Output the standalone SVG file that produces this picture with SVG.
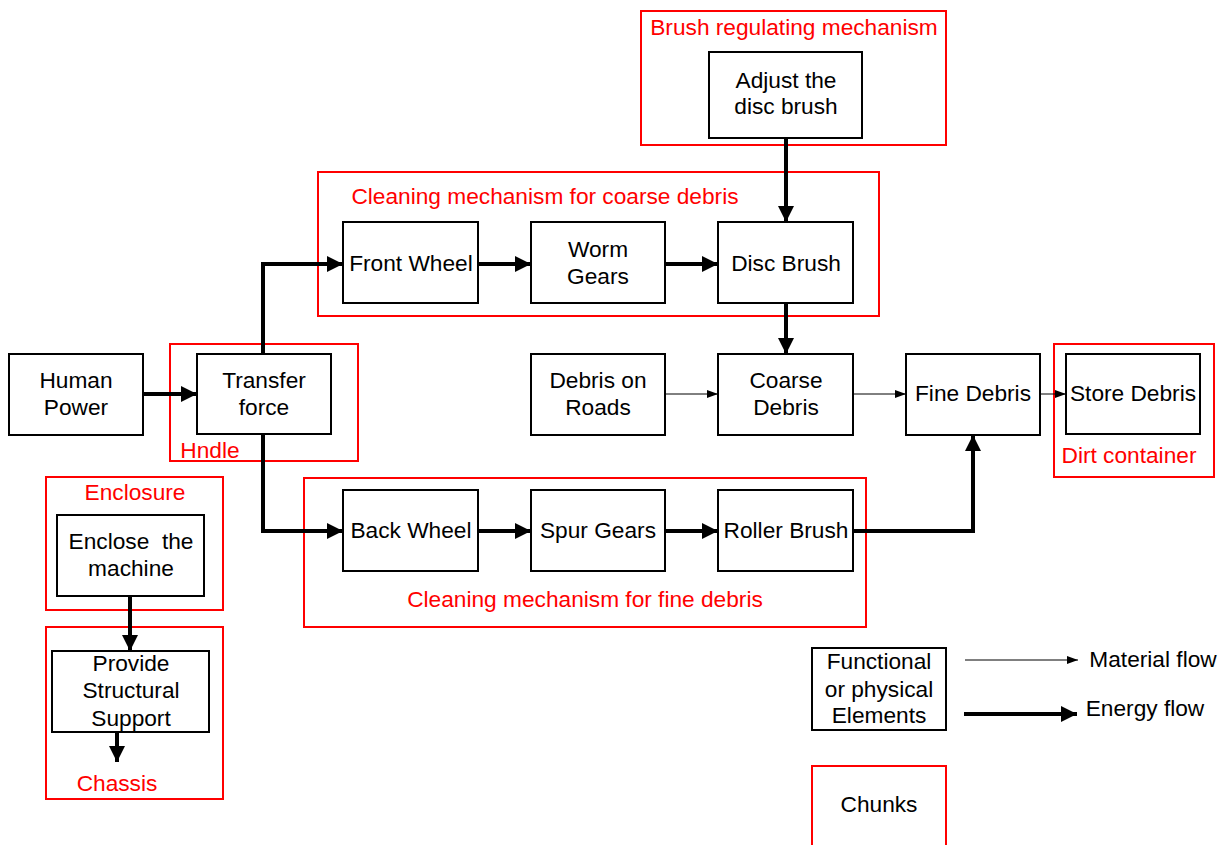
<svg xmlns="http://www.w3.org/2000/svg" width="1228" height="845" viewBox="0 0 1228 845">
<defs>
<marker id="thick" markerUnits="userSpaceOnUse" markerWidth="17" markerHeight="18" refX="16" refY="9" orient="auto"><path d="M0,1 L16,9 L0,17 z" fill="#000"/></marker>
<marker id="thin" markerUnits="userSpaceOnUse" markerWidth="12" markerHeight="10" refX="11" refY="5" orient="auto"><path d="M0,1 L11,5 L0,9 z" fill="#000"/></marker>
<style>
.n{fill:#fff;stroke:#000;stroke-width:2}
.c{fill:none;stroke:#f00;stroke-width:2}
.t{font-family:"Liberation Sans",Arial,sans-serif;font-size:22.7px;fill:#000;text-anchor:middle;white-space:pre}
.r{font-family:"Liberation Sans",Arial,sans-serif;font-size:22.7px;fill:#f00;text-anchor:middle}
.e{fill:none;stroke:#000;stroke-width:4}
.m{fill:none;stroke:#000;stroke-width:1}
</style>
</defs>
<rect width="1228" height="845" fill="#fff"/>
<g id="chunks">
<rect class="c" x="641" y="11" width="305" height="134"/>
<text class="r" x="794" y="35">Brush regulating mechanism</text>
<rect class="c" x="318" y="172" width="561" height="144"/>
<text class="r" x="545" y="204">Cleaning mechanism for coarse debris</text>
<rect class="c" x="170" y="344" width="188" height="117"/>
<text class="r" x="210" y="458">Hndle</text>
<rect class="c" x="1054" y="344" width="160" height="133"/>
<text class="r" x="1129" y="463">Dirt container</text>
<rect class="c" x="304" y="478" width="562" height="149"/>
<text class="r" x="585" y="607">Cleaning mechanism for fine debris</text>
<rect class="c" x="46" y="477" width="177" height="133"/>
<text class="r" x="135" y="500">Enclosure</text>
<rect class="c" x="46" y="627" width="177" height="172"/>
<text class="r" x="117" y="791">Chassis</text>
</g>
<g id="connectors">
<line class="e" x1="786" y1="138" x2="786" y2="222" marker-end="url(#thick)"/>
<line class="e" x1="478" y1="264" x2="531" y2="264" marker-end="url(#thick)"/>
<line class="e" x1="665" y1="264" x2="718" y2="264" marker-end="url(#thick)"/>
<polyline class="e" points="263,354 263,264 343,264" marker-end="url(#thick)"/>
<line class="e" x1="786" y1="303" x2="786" y2="354" marker-end="url(#thick)"/>
<line class="e" x1="143" y1="394" x2="197" y2="394" marker-end="url(#thick)"/>
<polyline class="e" points="263,434 263,531 343,531" marker-end="url(#thick)"/>
<line class="e" x1="478" y1="531" x2="531" y2="531" marker-end="url(#thick)"/>
<line class="e" x1="665" y1="531" x2="718" y2="531" marker-end="url(#thick)"/>
<polyline class="e" points="853,531 973,531 973,435" marker-end="url(#thick)"/>
<line class="e" x1="130" y1="596" x2="130" y2="651" marker-end="url(#thick)"/>
<line class="e" x1="117" y1="732" x2="117" y2="762" marker-end="url(#thick)"/>
<line class="m" x1="665" y1="394" x2="718" y2="394" marker-end="url(#thin)"/>
<line class="m" x1="853" y1="394" x2="906" y2="394" marker-end="url(#thin)"/>
<line class="m" x1="1040" y1="394" x2="1066" y2="394" marker-end="url(#thin)"/>
<line class="m" x1="965" y1="660" x2="1078" y2="660" marker-end="url(#thin)"/>
<line class="e" x1="964" y1="714" x2="1077" y2="714" marker-end="url(#thick)"/>
</g>
<g id="adjust"><rect class="n" x="709" y="52" width="153" height="86"/><text class="t" x="786" y="88">Adjust the</text><text class="t" x="786" y="114">disc brush</text></g>
<g id="frontwheel"><rect class="n" x="343" y="222" width="135" height="81"/><text class="t" x="411" y="271">Front Wheel</text></g>
<g id="wormgears"><rect class="n" x="531" y="222" width="134" height="81"/><text class="t" x="598" y="257">Worm</text><text class="t" x="598" y="284">Gears</text></g>
<g id="discbrush"><rect class="n" x="718" y="222" width="135" height="81"/><text class="t" x="786" y="271">Disc Brush</text></g>
<g id="humanpower"><rect class="n" x="9" y="354" width="134" height="81"/><text class="t" x="76" y="388">Human</text><text class="t" x="76" y="415">Power</text></g>
<g id="transfer"><rect class="n" x="197" y="354" width="134" height="80"/><text class="t" x="264" y="388">Transfer</text><text class="t" x="264" y="415">force</text></g>
<g id="debrisroads"><rect class="n" x="531" y="354" width="134" height="81"/><text class="t" x="598" y="388">Debris on</text><text class="t" x="598" y="415">Roads</text></g>
<g id="coarse"><rect class="n" x="718" y="354" width="135" height="81"/><text class="t" x="786" y="388">Coarse</text><text class="t" x="786" y="415">Debris</text></g>
<g id="fine"><rect class="n" x="906" y="354" width="134" height="81"/><text class="t" x="973" y="401">Fine Debris</text></g>
<g id="store"><rect class="n" x="1066" y="354" width="134" height="80"/><text class="t" x="1133" y="401">Store Debris</text></g>
<g id="backwheel"><rect class="n" x="343" y="490" width="135" height="81"/><text class="t" x="411" y="538">Back Wheel</text></g>
<g id="spur"><rect class="n" x="531" y="490" width="134" height="81"/><text class="t" x="598" y="538">Spur Gears</text></g>
<g id="roller"><rect class="n" x="718" y="490" width="135" height="81"/><text class="t" x="786" y="538">Roller Brush</text></g>
<g id="enclose"><rect class="n" x="57" y="515" width="147" height="81"/><text class="t" x="131" y="549">Enclose  the</text><text class="t" x="131" y="576">machine</text></g>
<g id="support"><rect class="n" x="52" y="651" width="157" height="81"/><text class="t" x="131" y="671">Provide</text><text class="t" x="131" y="698">Structural</text><text class="t" x="131" y="726">Support</text></g>
<g id="legend">
<rect class="n" x="812" y="648" width="134" height="82"/>
<text class="t" x="879" y="669">Functional</text><text class="t" x="879" y="697">or physical</text><text class="t" x="879" y="723">Elements</text>
<text class="t" x="1153" y="667">Material flow</text>
<text class="t" x="1145" y="716">Energy flow</text>
<rect class="c" x="812" y="766" width="134" height="85"/>
<text class="t" x="879" y="812">Chunks</text>
</g>
</svg>
